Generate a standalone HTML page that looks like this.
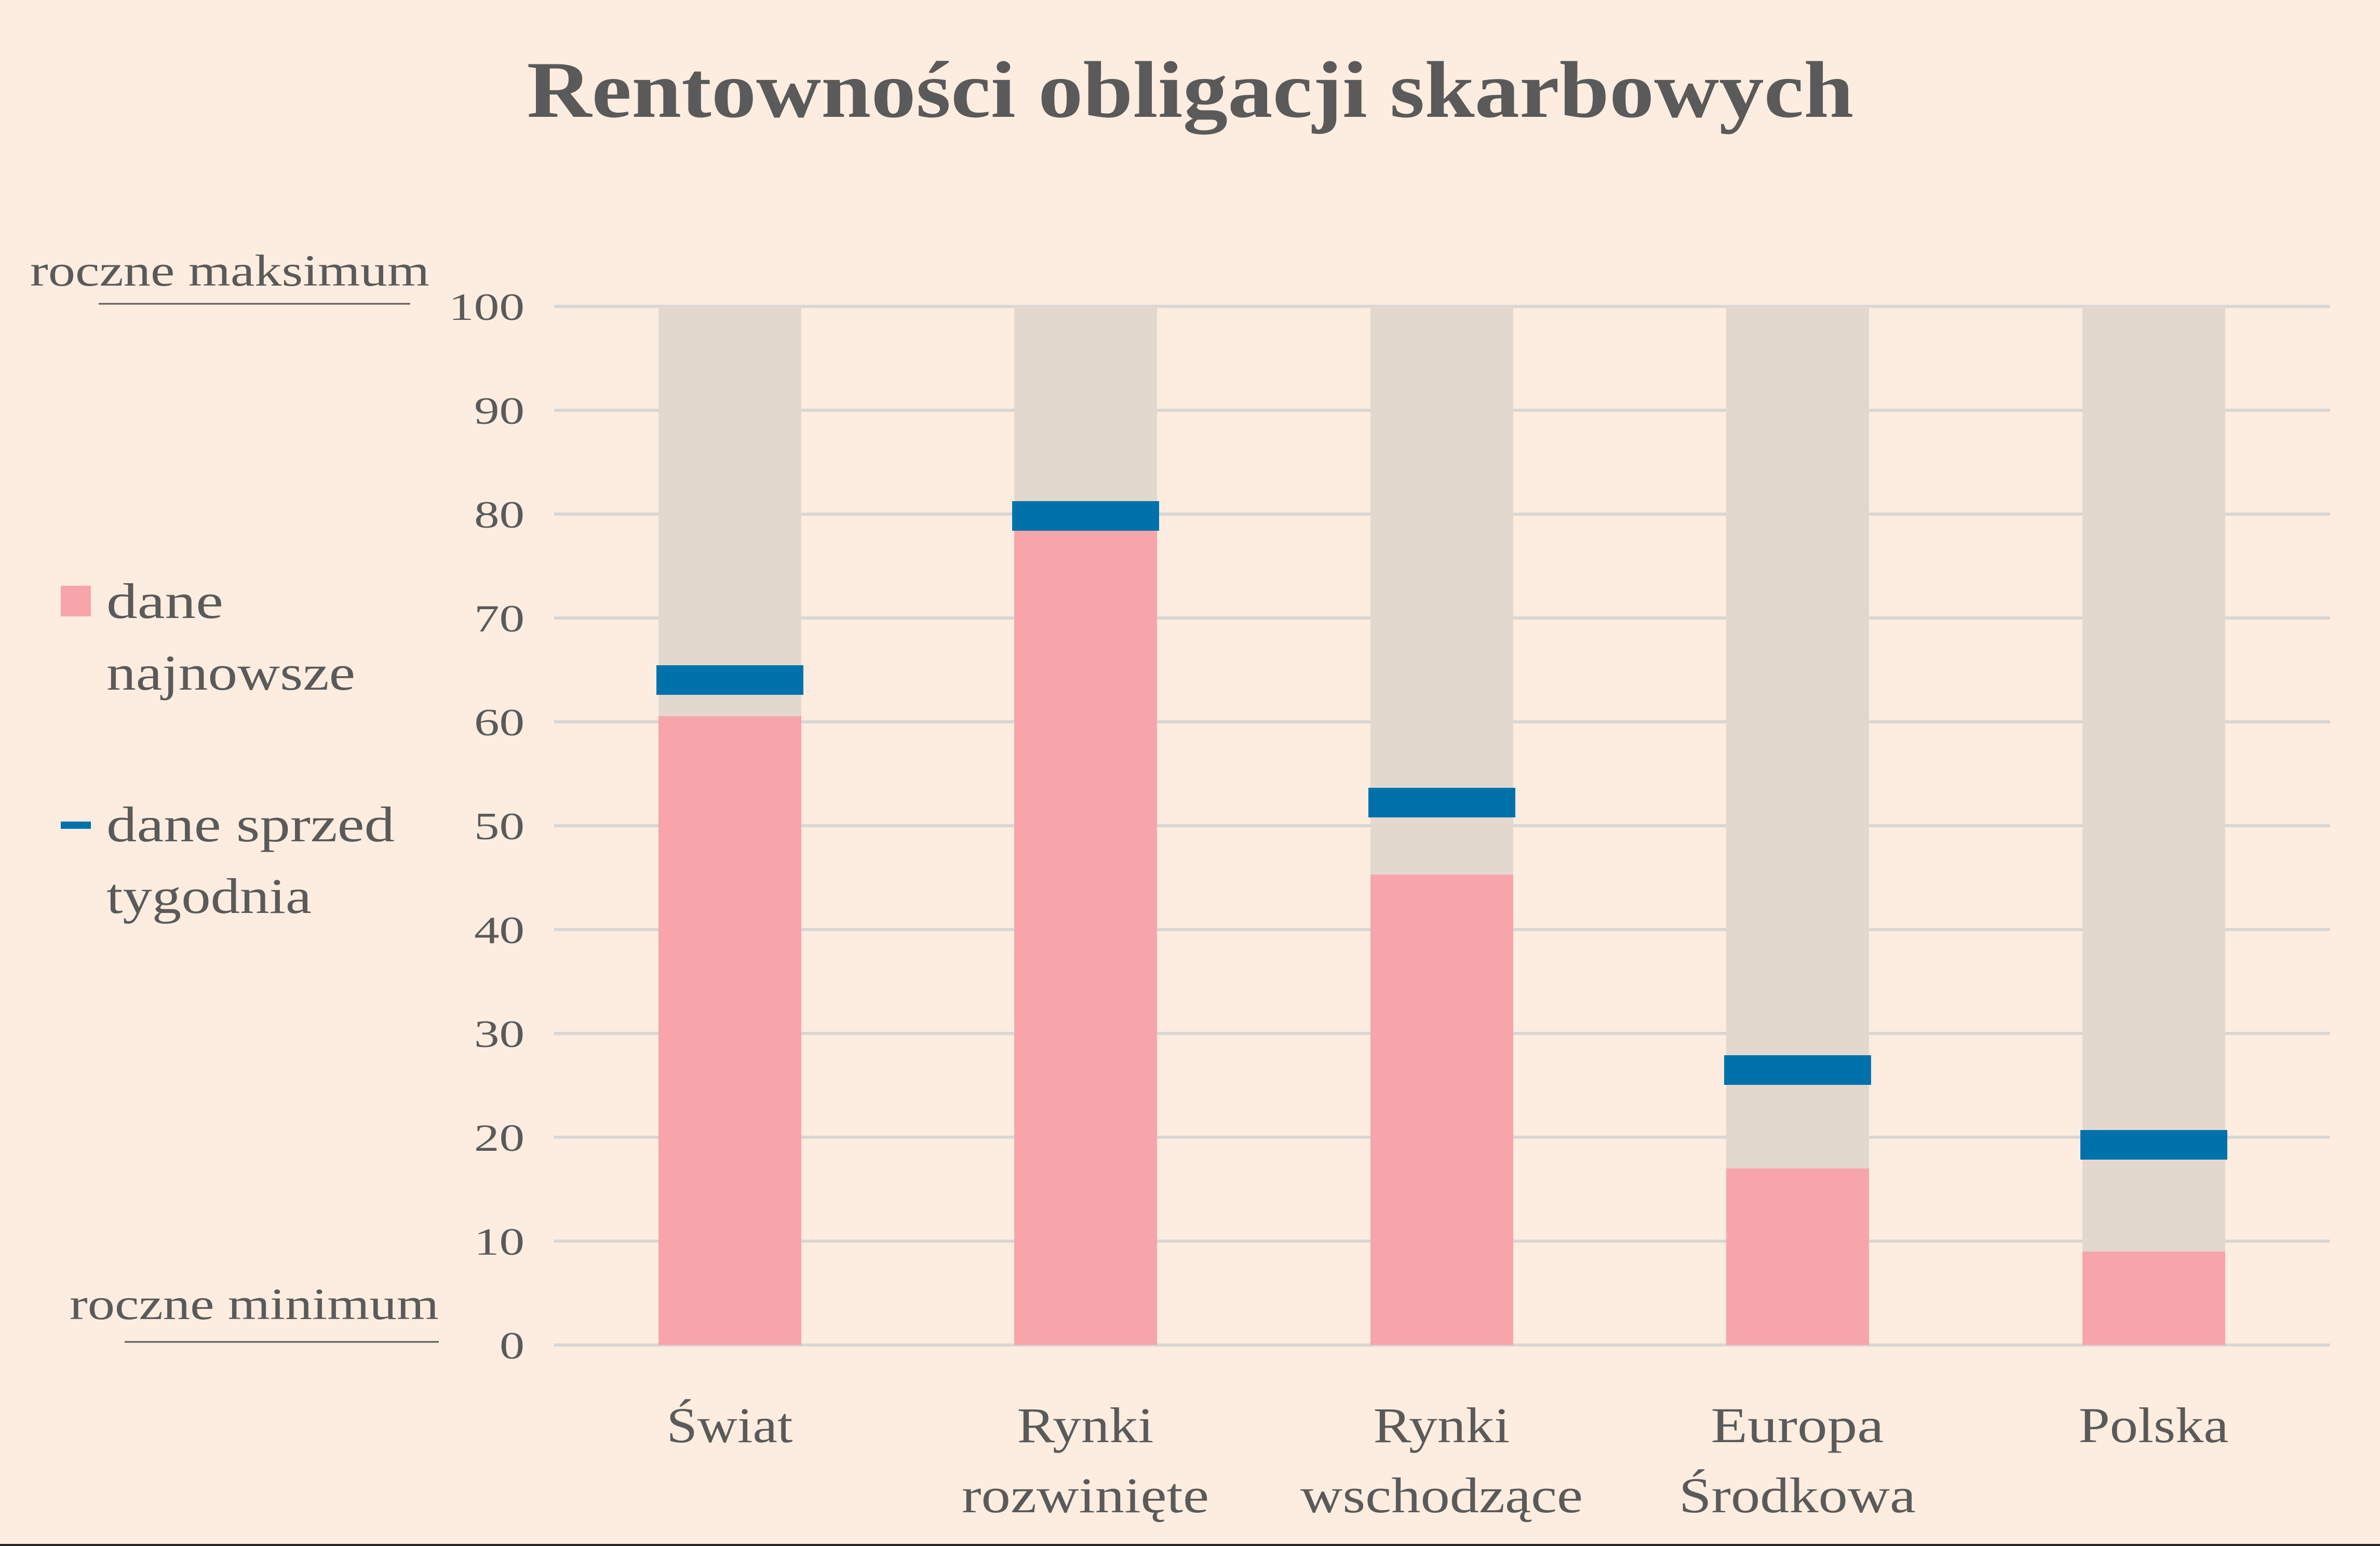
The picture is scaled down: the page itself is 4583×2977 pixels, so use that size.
<!DOCTYPE html>
<html><head><meta charset="utf-8"><style>
html,body{margin:0;padding:0;background:#fcede0;}
svg{display:block}
text{font-family:"Liberation Serif",serif;fill:#5a5a5a}
</style></head><body>
<svg width="4583" height="2977" viewBox="0 0 4583 2977" xmlns="http://www.w3.org/2000/svg">
<rect width="4583" height="2977" fill="#fcede0"/>
<text x="2292" y="225" text-anchor="middle" font-size="155" font-weight="bold" textLength="2555" lengthAdjust="spacingAndGlyphs">Rentowności obligacji skarbowych</text>
<g stroke="#d9d7d3" stroke-width="6">
<line x1="1067" x2="4487" y1="590" y2="590"/><line x1="1067" x2="4487" y1="790" y2="790"/>
<line x1="1067" x2="4487" y1="990" y2="990"/><line x1="1067" x2="4487" y1="1190" y2="1190"/>
<line x1="1067" x2="4487" y1="1390" y2="1390"/><line x1="1067" x2="4487" y1="1590" y2="1590"/>
<line x1="1067" x2="4487" y1="1790" y2="1790"/><line x1="1067" x2="4487" y1="1990" y2="1990"/>
<line x1="1067" x2="4487" y1="2190" y2="2190"/><line x1="1067" x2="4487" y1="2390" y2="2390"/>
<line x1="1067" x2="4487" y1="2590" y2="2590"/>
</g>
<g font-size="74" text-anchor="end">
<text x="1010" y="616" textLength="146" lengthAdjust="spacingAndGlyphs">100</text>
<text x="1010" y="816" textLength="97" lengthAdjust="spacingAndGlyphs">90</text>
<text x="1010" y="1016" textLength="97" lengthAdjust="spacingAndGlyphs">80</text>
<text x="1010" y="1216" textLength="97" lengthAdjust="spacingAndGlyphs">70</text>
<text x="1010" y="1416" textLength="97" lengthAdjust="spacingAndGlyphs">60</text>
<text x="1010" y="1616" textLength="97" lengthAdjust="spacingAndGlyphs">50</text>
<text x="1010" y="1816" textLength="97" lengthAdjust="spacingAndGlyphs">40</text>
<text x="1010" y="2016" textLength="97" lengthAdjust="spacingAndGlyphs">30</text>
<text x="1010" y="2216" textLength="97" lengthAdjust="spacingAndGlyphs">20</text>
<text x="1010" y="2416" textLength="97" lengthAdjust="spacingAndGlyphs">10</text>
<text x="1010" y="2616" textLength="48" lengthAdjust="spacingAndGlyphs">0</text>
</g>
<g fill="#e2d8ce">
<rect x="1268" y="590" width="275" height="2000"/><rect x="1953" y="590" width="275" height="2000"/>
<rect x="2639" y="590" width="275" height="2000"/><rect x="3324" y="590" width="275" height="2000"/>
<rect x="4010" y="590" width="275" height="2000"/>
</g>
<g fill="#f7a5ab">
<rect x="1268" y="1379" width="275" height="1211"/><rect x="1953" y="1022" width="275" height="1568"/>
<rect x="2639" y="1684" width="275" height="906"/><rect x="3324" y="2250" width="275" height="340"/>
<rect x="4010" y="2410" width="275" height="180"/>
</g>
<g fill="#0072ab">
<rect x="1264" y="1281" width="283" height="57"/><rect x="1949" y="965" width="283" height="57"/>
<rect x="2635" y="1517" width="283" height="57"/><rect x="3320" y="2032" width="283" height="57"/>
<rect x="4006" y="2176" width="283" height="57"/>
</g>
<g font-size="96" text-anchor="middle">
<text x="1405" y="2777" textLength="243" lengthAdjust="spacingAndGlyphs">Świat</text>
<text x="2090" y="2777" textLength="263" lengthAdjust="spacingAndGlyphs">Rynki</text>
<text x="2090" y="2912" textLength="476" lengthAdjust="spacingAndGlyphs">rozwinięte</text>
<text x="2776" y="2777" textLength="263" lengthAdjust="spacingAndGlyphs">Rynki</text>
<text x="2776" y="2912" textLength="544" lengthAdjust="spacingAndGlyphs">wschodzące</text>
<text x="3461" y="2777" textLength="333" lengthAdjust="spacingAndGlyphs">Europa</text>
<text x="3461" y="2912" textLength="456" lengthAdjust="spacingAndGlyphs">Środkowa</text>
<text x="4147" y="2777" textLength="289" lengthAdjust="spacingAndGlyphs">Polska</text>
</g>
<rect x="117" y="1128" width="58" height="59" fill="#f7a5ab"/>
<rect x="117" y="1582" width="58" height="14" fill="#0072ab"/>
<g font-size="96">
<text x="205" y="1190" textLength="225" lengthAdjust="spacingAndGlyphs">dane</text>
<text x="205" y="1328" textLength="479" lengthAdjust="spacingAndGlyphs">najnowsze</text>
<text x="205" y="1620" textLength="555" lengthAdjust="spacingAndGlyphs">dane sprzed</text>
<text x="205" y="1758" textLength="395" lengthAdjust="spacingAndGlyphs">tygodnia</text>
</g>
<g font-size="86">
<text x="58" y="550" textLength="769" lengthAdjust="spacingAndGlyphs">roczne maksimum</text>
<text x="134" y="2540" textLength="711" lengthAdjust="spacingAndGlyphs">roczne minimum</text>
</g>
<line x1="190" x2="790" y1="585" y2="585" stroke="#5a5a5a" stroke-width="3"/>
<line x1="240" x2="845" y1="2584" y2="2584" stroke="#5a5a5a" stroke-width="3"/>
<line x1="0" x2="4583" y1="2975" y2="2975" stroke="#222" stroke-width="4"/>
</svg>
</body></html>
